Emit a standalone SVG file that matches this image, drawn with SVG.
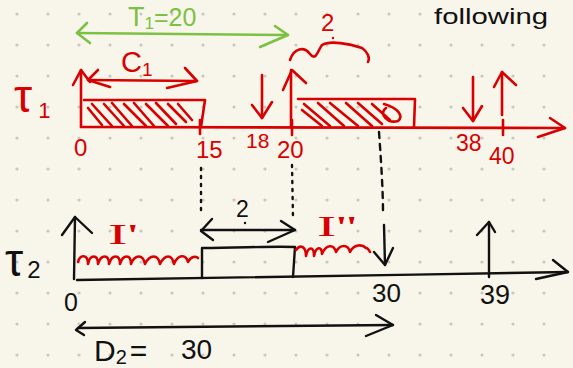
<svg xmlns="http://www.w3.org/2000/svg" width="573" height="368" viewBox="0 0 573 368">
<defs>
<pattern id="dots" x="0" y="0" width="31" height="31" patternUnits="userSpaceOnUse">
<circle cx="17" cy="14" r="1.6" fill="#c9c7be"/>
</pattern>
<style>
.r{stroke:#d80000;fill:none;stroke-width:2.6;stroke-linecap:round;stroke-linejoin:round}
.k{stroke:#111;fill:none;stroke-width:2.4;stroke-linecap:round;stroke-linejoin:round}
.g{stroke:#7cc143;fill:none;stroke-width:2.6;stroke-linecap:round;stroke-linejoin:round}
.kd{stroke:#111;fill:none;stroke-width:2.4;stroke-linecap:round;stroke-dasharray:2 6}
.kd2{stroke:#111;fill:none;stroke-width:2.4;stroke-linecap:round;stroke-dasharray:6 6}
.tr{fill:#d80000;font-family:"Liberation Sans",Arial,sans-serif}
.tk{fill:#111;font-family:"Liberation Sans",Arial,sans-serif}
.tg{fill:#7cc143;font-family:"Liberation Sans",Arial,sans-serif}
.ts{font-family:"Liberation Serif","Times New Roman",serif}
</style>
</defs>
<rect width="573" height="368" fill="#f8f6eb"/>
<rect width="573" height="368" fill="url(#dots)"/>

<!-- top-right word -->
<text class="tk" x="434" y="24" font-size="22" textLength="114" lengthAdjust="spacingAndGlyphs">following</text>

<!-- green period arrow -->
<g id="period">
<path class="g" d="M77,33 L288,35"/>
<path class="g" d="M87,23 L77,33 L90,43"/>
<path class="g" d="M275,26 L288,35 L260,47"/>
<text class="tg" x="128" y="26" font-size="27">T<tspan font-size="17" dy="3">1</tspan><tspan dy="-3" font-size="25">=20</tspan></text>
</g>

<!-- tau1 timeline -->
<g id="tau1">
<text class="tr" x="14" y="112" font-size="46">τ<tspan font-size="22" dx="6" dy="6">1</tspan></text>
<path class="r" d="M81,127 L81,70"/>
<path class="r" d="M73,85 L81,70 L90,82"/>
<path class="r" d="M81,127 L565,128"/>
<path class="r" d="M550,118 L565,128 L538,137"/>
<!-- C1 -->
<path class="r" d="M88,80 L197,81"/>
<path class="r" d="M98,70 L88,80 L110,87"/>
<path class="r" d="M185,68 L197,81 L167,88"/>
<text class="tr" x="121" y="72" font-size="29">C<tspan font-size="19" dy="4">1</tspan></text>
<!-- box 1 -->
<path class="r" d="M84,100 L205,100 L201,127"/>
<path class="r" d="M88,108 L102,125 M92,104 L112,126 M104,104 L124,126 M112,103 L132,126 M124,104 L146,126 M134,103 L154,126 M146,104 L168,126 M156,103 L176,124 M168,104 L186,122 M178,104 L192,120"/>
<!-- ticks -->
<path class="r" d="M200,120 L200,134"/>
<path class="r" d="M292,120 L292,135"/>
<path class="r" d="M503,120 L503,135"/>
<!-- labels -->
<text class="tr" x="74" y="156" font-size="24">0</text>
<text class="tr" x="196" y="158" font-size="24">15</text>
<text class="tr" x="246" y="148" font-size="21">18</text>
<text class="tr" x="277" y="158" font-size="24">20</text>
<text class="tr" x="456" y="151" font-size="23">38</text>
<text class="tr" x="489" y="164" font-size="23">40</text>
<!-- arrows -->
<path class="r" d="M262,75 L262,118"/>
<path class="r" d="M252,105 L262,118 L272,102"/>
<path class="r" d="M291,127 L291,70"/>
<path class="r" d="M283,90 L292,70 L306,83"/>
<path class="r" d="M473,77 L473,121"/>
<path class="r" d="M463,108 L473,121 L482,106"/>
<path class="r" d="M502,115 L502,72"/>
<path class="r" d="M494,87 L502,72 L516,85"/>
<!-- brace and 2 -->
<path class="r" d="M290,60 C294,48 304,46 310,54 C316,62 318,50 322,45 C330,40 350,44 362,48 C368,52 370,58 368,62"/>
<text class="tr" x="321" y="31" font-size="24">2</text>
<circle cx="333" cy="38" r="1.2" fill="#d80000"/>
<!-- box 2 -->
<path class="r" d="M298,99 L415,99 L414,127"/>
<path class="r" d="M302,110 L322,126 M304,104 L330,126 M318,103 L344,126 M330,103 L358,126 M346,103 L372,126 M358,103 L382,124 M372,104 L390,120 M384,104 C398,108 404,116 398,121 C388,124 378,114 386,108"/>
</g>

<!-- dotted projection lines -->
<g id="projections">
<path class="kd" d="M201,168 L201,215"/>
<path class="kd" d="M292,165 L293,218"/>
<path class="kd2" d="M379,132 C381,160 383,190 383,213"/>
<path class="k" d="M384,225 L385,265"/>
<path class="k" d="M374,252 L385,265 L393,248"/>
</g>

<!-- tau2 timeline -->
<g id="tau2">
<text class="tk" x="5" y="276" font-size="46">τ<tspan font-size="24" dx="4" dy="2">2</tspan></text>
<path class="k" d="M74,279 L75,217"/>
<path class="k" d="M62,235 L75,217 L92,233"/>
<path class="k" d="M77,280 C200,278 400,275 568,272"/>
<path class="k" d="M553,260 L568,272 L536,279"/>
<!-- box -->
<path class="k" d="M202,278 L202,248 C240,248 270,246 295,247 L293,277"/>
<path class="k" d="M201,230 L295,230"/>
<path class="k" d="M212,219 L201,231 L213,240"/>
<path class="k" d="M281,221 L295,230 L268,242"/>
<text class="tk" x="236" y="217" font-size="23">2</text>
<circle cx="245" cy="223" r="1.2" fill="#111"/>
<!-- idle labels -->
<text class="tr ts" x="108" y="244" font-size="30" textLength="30" lengthAdjust="spacingAndGlyphs">I'</text>
<path class="r" d="M78,262 C80,254 88,254 88,264 C90,254 98,254 98,264 C101,254 109,254 109,264 C112,254 120,254 120,264 C123,254 131,254 131,264 C135,254 143,254 145,264 C150,254 158,254 160,264 C165,254 172,254 174,264 C178,254 186,254 188,262 C191,256 196,256 198,258"/>
<text class="tr ts" x="317" y="236" font-size="30" textLength="40" lengthAdjust="spacingAndGlyphs">I''</text>
<path class="r" d="M296,250 C300,244 306,246 306,256 C308,246 314,246 314,256 C316,246 322,246 322,254 C326,244 334,244 336,252 C340,244 348,244 350,252 C354,244 362,244 366,248 C368,248 369,250 370,252"/>
<!-- labels -->
<text class="tk" x="64" y="311" font-size="25">0</text>
<text class="tk" x="372" y="302" font-size="26">30</text>
<text class="tk" x="480" y="304" font-size="27">39</text>
<path class="k" d="M489,277 L489,222"/>
<path class="k" d="M477,235 L489,222 L495,232"/>
<!-- D2 -->
<path class="k" d="M78,328 L393,325"/>
<path class="k" d="M85,322 L76,330 L84,335"/>
<path class="k" d="M376,315 L393,325 L366,336"/>
<text class="tk" x="94" y="361" font-size="30">D<tspan font-size="20" dy="3">2</tspan><tspan dy="-3" dx="3">=</tspan></text>
<text class="tk" x="181" y="359" font-size="28">30</text>
</g>
</svg>
